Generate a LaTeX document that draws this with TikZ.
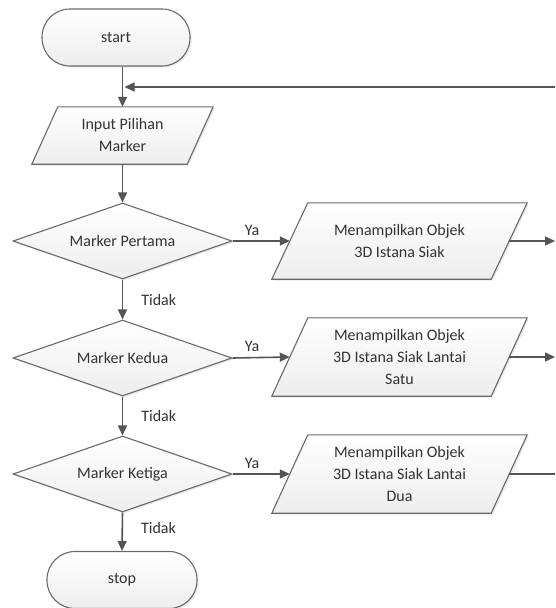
\documentclass[tikz,border=0pt]{standalone}
\usepackage{fontspec}
\setmainfont{Carlito}
\usetikzlibrary{shapes.geometric,arrows.meta,shadows,backgrounds}
\definecolor{edgegray}{HTML}{6A6A6A}
\definecolor{linegray}{HTML}{555555}
\definecolor{txtgray}{HTML}{333333}
\newcommand\paraShape[2]{\path[shapebase] ([xshift=#2]#1.north west) -- (#1.north east) -- ([xshift=-#2]#1.south east) -- (#1.south west) -- cycle;}
\begin{document}
\begin{tikzpicture}[x=1pt,y=-1pt,
  font=\fontsize{16}{22}\selectfont, text=txtgray,
  shapebase/.style={draw=edgegray, line width=1.1pt, top color=white, bottom color=gray!14,
    drop shadow={opacity=0.18,shadow xshift=1.5pt,shadow yshift=-1.5pt}},
  term/.style={shapebase, rectangle, rounded corners=28pt, minimum width=148pt, minimum height=57pt, inner sep=0pt},
  io/.style={rectangle, inner sep=0pt, align=center},
  decision/.style={shapebase, diamond, aspect=2.88, minimum width=219pt, minimum height=76pt, inner sep=0pt},
  flow/.style={draw=linegray, line width=1.6pt, -{Triangle[length=10pt,width=9pt]}},
  plain/.style={draw=linegray, line width=1.6pt},
  lbl/.style={font=\fontsize{16}{18}\selectfont, inner sep=0pt}]
\useasboundingbox (0,0) rectangle (555,608);

\node[term] (start) at (116,37.5) {start};
\node[io, minimum width=181pt, minimum height=57pt] (inp) at (122.5,135.5) {Input Pilihan\\Marker};
\node[decision] (d1) at (122.5,241) {Marker Pertama};
\node[io, minimum width=255pt, minimum height=76pt] (p1) at (399.5,241) {Menampilkan Objek\\3D Istana Siak};
\node[decision] (d2) at (122.5,358) {Marker Kedua};
\node[io, minimum width=255pt, minimum height=78pt] (p2) at (399.5,357) {Menampilkan Objek\\3D Istana Siak Lantai\\Satu};
\node[decision] (d3) at (122.5,474) {Marker Ketiga};
\node[io, minimum width=255pt, minimum height=78pt] (p3) at (399.5,474) {Menampilkan Objek\\3D Istana Siak Lantai\\Dua};
\node[term, minimum width=150pt] (stop) at (122,580) {stop};

\begin{pgfonlayer}{background}
\fill[white] (0,0) rectangle (555,608);
\paraShape{inp}{26pt}
\paraShape{p1}{36pt}
\paraShape{p2}{36pt}
\paraShape{p3}{36pt}
\end{pgfonlayer}

\coordinate (edge) at (555,0);
\coordinate (fbR) at (555,87);

\draw[flow] (start.south -| inp.north) -- (inp.north);
\draw[flow] (fbR) -- ([xshift=2pt]inp.north |- fbR);
\draw[flow] (inp.south) -- (d1.north);

\draw[flow] (d1.east) -- node[lbl, above=5pt, pos=0.34]{Ya} ([xshift=18pt]p1.west);
\draw[flow] ([xshift=-18pt]p1.east) -- (p1.east -| edge);
\draw[flow] (d1.south) -- node[lbl, right=18pt]{Tidak} (d2.north);

\draw[flow] (d2.east) -- node[lbl, above=5pt, pos=0.34]{Ya} ([xshift=18pt]p2.west);
\draw[flow] ([xshift=-18pt]p2.east) -- (p2.east -| edge);
\draw[flow] (d2.south) -- node[lbl, right=18pt]{Tidak} (d3.north);

\draw[flow] (d3.east) -- node[lbl, above=5pt, pos=0.34]{Ya} ([xshift=18pt]p3.west);
\draw[plain] ([xshift=-18pt]p3.east) -- (p3.east -| edge);
\draw[flow] (d3.south) -- node[lbl, right=18pt, pos=0.4]{Tidak} (stop.north);
\end{tikzpicture}
\end{document}
